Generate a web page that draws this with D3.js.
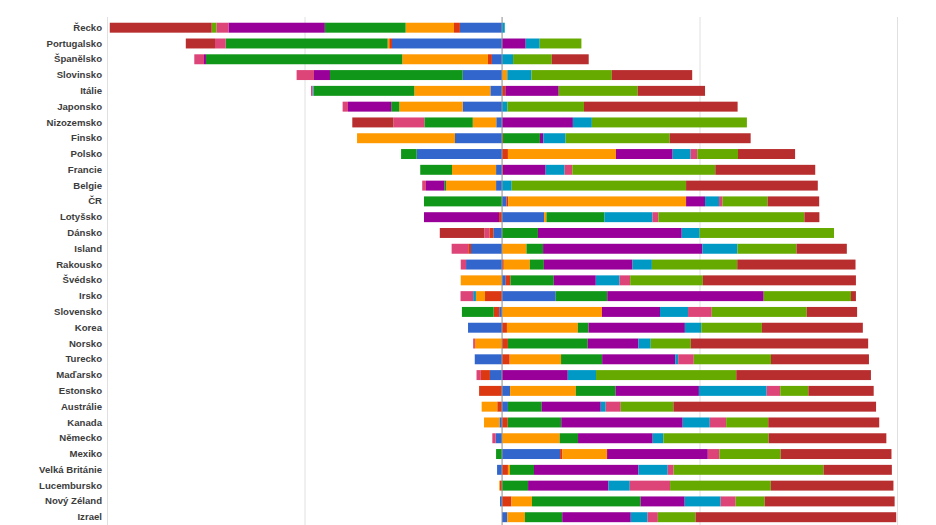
<!DOCTYPE html>
<html><head><meta charset="utf-8">
<script src="https://cdn.jsdelivr.net/npm/d3@7"></script>
<style>html,body{margin:0;padding:0;background:#fff;} svg{display:block;}</style>
</head><body>
<svg id="chart" width="936" height="525"></svg>
<script>
const countries = ["Řecko","Portugalsko","Španělsko","Slovinsko","Itálie","Japonsko","Nizozemsko","Finsko","Polsko","Francie","Belgie","ČR","Lotyšsko","Dánsko","Island","Rakousko","Švédsko","Irsko","Slovensko","Korea","Norsko","Turecko","Maďarsko","Estonsko","Austrálie","Kanada","Německo","Mexiko","Velká Británie","Lucembursko","Nový Zéland","Izrael"];

const series1 = [-2.13,-5.57,-0.51,-1.99,-0.59,-1.99,-0.29,-2.38,-4.32,-0.30,-0.30,0.23,2.13,-0.44,-1.57,-1.82,0.19,2.72,-0.14,-1.72,0,-1.38,-0.61,0.41,0.30,-0.13,-0.32,2.94,-0.25,0,-0.10,0.27];
const series2 = [-0.30,-0.14,-0.20,0,0.17,0,0,0.05,0.30,0.05,0,0.08,-0.15,-0.20,-0.14,0.09,0.24,-0.86,-0.28,0.25,0.30,0.39,-0.46,-1.16,-0.24,0.29,0,0.12,0.30,-0.10,0.48,0];
const series3 = [-2.45,-0.08,-4.34,0.27,-3.85,-3.21,-1.19,-4.96,5.47,-2.23,-2.53,9.01,0.12,0,1.24,1.32,-2.09,-0.46,5.06,3.59,-1.37,2.60,0,3.33,-0.79,-0.78,2.92,2.26,0.10,-0.04,1.04,0.89];
const series4 = [-4.09,-8.20,-9.94,-6.72,-5.10,-0.41,-2.45,1.87,-0.79,-1.61,-0.09,-3.95,2.94,1.82,0.84,0.71,2.19,2.61,-1.61,0.54,4.04,2.08,0,2.01,1.71,2.71,0.93,-0.30,1.22,1.32,5.50,1.89];
const series5 = [-4.88,1.20,-0.10,-0.81,2.70,-2.19,3.59,0.17,2.87,2.16,-0.93,0.96,-3.80,7.28,8.07,4.49,2.13,7.92,2.94,4.88,2.57,3.70,3.33,4.22,2.99,6.15,3.78,5.10,5.29,4.07,2.23,3.47];
const series6 = [0.14,0.71,0.56,1.22,-0.05,0.27,0.96,1.13,0.91,0.96,0.49,0.71,2.43,0.91,1.77,0.98,1.20,-0.14,1.42,0.83,0.62,0.15,1.43,3.43,0.25,1.37,0.54,0,1.48,1.08,1.82,0.85];
const series7 = [-0.61,-0.54,-0.49,-0.88,-0.08,-0.27,-1.57,0,0.34,0.39,-0.19,0.18,0.30,-0.25,-0.84,-0.27,0.54,-0.64,1.20,0,-0.09,0.79,-0.22,0.69,0.76,0.83,-0.17,0.59,0.30,2.04,0.76,0.52];
const series8 = [-0.24,2.11,1.96,4.07,4.00,3.88,7.85,5.27,2.06,7.24,8.83,2.28,7.39,6.80,2.99,4.32,3.68,4.42,4.81,3.07,2.03,3.91,7.10,1.42,2.67,2.13,5.33,3.10,7.59,5.10,1.47,1.91];
const series9 = [-5.16,-1.48,1.87,4.07,3.41,7.78,-2.08,4.10,2.89,5.06,6.67,2.61,0.76,-2.26,2.55,5.99,7.75,0.25,2.55,5.11,8.98,4.96,6.82,3.31,10.26,5.62,5.96,5.61,3.46,6.21,6.58,10.16];

const seriesKeys = ["s1","s2","s3","s4","s5","s6","s7","s8","s9"];
const seriesColors = ["#3366cc","#dc3912","#ff9900","#109618","#990099","#0099c6","#dd4477","#66aa00","#b82e2e"];
const xTickValues = [-20,-10,0,10,20];

const allSeries = [series1,series2,series3,series4,series5,series6,series7,series8,series9];
const rows = countries.map((c,i)=>{
  const r = {country:c};
  seriesKeys.forEach((k,j)=>{ r[k] = allSeries[j][i]; });
  return r;
});

const svg = d3.select("#chart");
const plotTop = 17, plotBottom = 525;
const x = d3.scaleLinear().domain([-20,20]).range([107,897]);
const y = d3.scaleBand().domain(countries).range([19.8,525.1]).paddingInner(0.37).paddingOuter(0.185);
const color = d3.scaleOrdinal().domain(seriesKeys).range(seriesColors);

// gridlines
const grid = svg.append("g").attr("transform",`translate(0,${plotTop})`)
  .call(d3.axisTop(x).tickValues(xTickValues).tickSize(-(plotBottom-plotTop)).tickFormat(""));
grid.select(".domain").remove();
grid.selectAll(".tick line").attr("stroke","#e0e0e0").attr("stroke-width",1);

const layers = d3.stack().keys(seriesKeys).offset(d3.stackOffsetDiverging)(rows);

svg.append("g").selectAll("g").data(layers).join("g")
  .attr("fill", d=>color(d.key))
  .selectAll("rect").data(d=>d).join("rect")
  .attr("x", d=>x(Math.min(d[0],d[1])))
  .attr("width", d=>Math.abs(x(d[1])-x(d[0])))
  .attr("y", d=>y(d.data.country))
  .attr("height", y.bandwidth());

// zero baseline on top
svg.append("line").attr("x1",x(0)).attr("x2",x(0)).attr("y1",plotTop).attr("y2",plotBottom)
  .attr("stroke","#9a9a9a").attr("stroke-width",1);

// category labels
const yAxis = svg.append("g").attr("transform",`translate(${x(-20)},0)`)
  .call(d3.axisLeft(y).tickSize(0).tickPadding(5));
yAxis.select(".domain").remove();
yAxis.selectAll("text")
  .attr("font-family","'Liberation Sans', Arial, sans-serif")
  .attr("font-size","9.6px").attr("font-weight","bold").attr("fill","#3c3c3c");
</script>
</body></html>
